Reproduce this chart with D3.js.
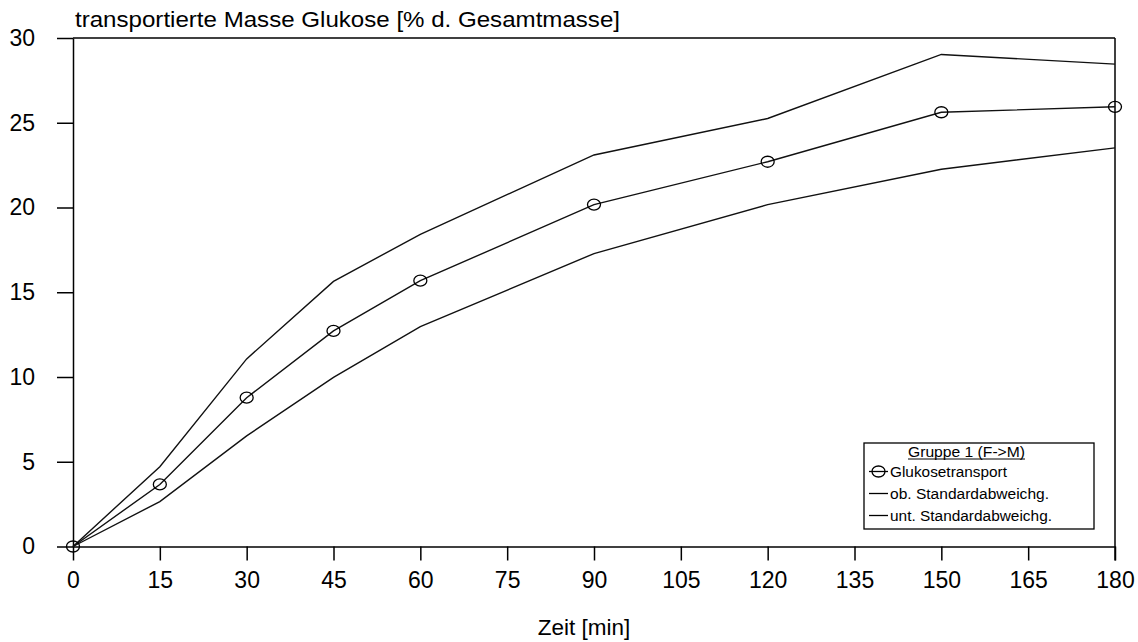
<!DOCTYPE html>
<html>
<head>
<meta charset="utf-8">
<script src="https://cdn.jsdelivr.net/npm/d3@7"></script>
<style>
  body { margin: 0; background: #fff; }
  svg { display: block; font-family: "Liberation Sans", Arial, sans-serif; }
</style>
</head>
<body>
<svg width="1138" height="642"></svg>
<script>
const width = 1138, height = 642;
const svg = d3.select("svg");

// data
const times = [0, 15, 30, 45, 60, 90, 120, 150, 180];
const mean = [0, 3.66, 8.78, 12.72, 15.68, 20.17, 22.70, 25.62, 25.94];
const upper = [0, 4.71, 11.07, 15.64, 18.42, 23.10, 25.25, 29.03, 28.46];
const lower = [0, 2.65, 6.53, 9.98, 12.97, 17.28, 20.17, 22.26, 23.52];
const xTicks = [0, 15, 30, 45, 60, 75, 90, 105, 120, 135, 150, 165, 180];
const yTicks = [0, 5, 10, 15, 20, 25, 30];

const x = d3.scaleLinear().domain([0, 180]).range([73, 1115]);
const y = d3.scaleLinear().domain([0, 30]).range([546.5, 38]);

// axes
const xAxis = svg.append("g")
    .attr("transform", `translate(0,${y(0)})`)
    .call(d3.axisBottom(x).tickValues(xTicks).tickSize(14).tickSizeOuter(0).tickPadding(11));
const yAxis = svg.append("g")
    .attr("transform", `translate(${x(0)},0)`)
    .call(d3.axisLeft(y).tickValues(yTicks).tickSize(16).tickSizeOuter(0).tickPadding(22));

[xAxis, yAxis].forEach(g => {
    g.selectAll("path.domain").attr("stroke", "#000").attr("stroke-width", 1.5);
    g.selectAll(".tick line").attr("stroke", "#000").attr("stroke-width", 1.5);
    g.selectAll(".tick text")
        .attr("fill", "#000")
        .style("font-size", "23px")
        .style("font-family", "'Liberation Sans', Arial, sans-serif");
});

// frame on top and right
svg.append("line")
    .attr("x1", x(0)).attr("x2", x(180)).attr("y1", y(30)).attr("y2", y(30))
    .attr("stroke", "#000").attr("stroke-width", 1.5);
svg.append("line")
    .attr("x1", x(180)).attr("x2", x(180)).attr("y1", y(30)).attr("y2", y(0) + 14)
    .attr("stroke", "#000").attr("stroke-width", 1.5);

// series lines
const line = d3.line().x((d, i) => x(times[i])).y(d => y(d));
[upper, lower, mean].forEach(s => {
    svg.append("path")
        .datum(s)
        .attr("d", line)
        .attr("fill", "none")
        .attr("stroke", "#111")
        .attr("stroke-width", 1.4);
});

svg.selectAll(".pt")
    .data(mean)
    .join("ellipse")
    .attr("class", "pt")
    .attr("cx", (d, i) => x(times[i]))
    .attr("cy", d => y(d))
    .attr("rx", 6.5)
    .attr("ry", 5.5)
    .attr("fill", "none")
    .attr("stroke", "#000")
    .attr("stroke-width", 1.3);

// titles
svg.append("text")
    .attr("x", 75).attr("y", 27)
    .attr("textLength", 545).attr("lengthAdjust", "spacingAndGlyphs")
    .style("font-size", "21.5px")
    .text("transportierte Masse Glukose [% d. Gesamtmasse]");

svg.append("text")
    .attr("x", 584).attr("y", 635)
    .attr("text-anchor", "middle")
    .style("font-size", "22.5px")
    .text("Zeit [min]");

// legend
const lg = svg.append("g");
lg.append("rect")
    .attr("x", 864).attr("y", 443).attr("width", 230).attr("height", 86)
    .attr("fill", "#fff").attr("stroke", "#000").attr("stroke-width", 1.3);
lg.append("text")
    .attr("x", 908).attr("y", 456.5)
    .attr("textLength", 117).attr("lengthAdjust", "spacingAndGlyphs")
    .style("font-size", "15.5px")
    .text("Gruppe 1 (F->M)");
lg.append("line")
    .attr("x1", 908).attr("x2", 1025).attr("y1", 459).attr("y2", 459)
    .attr("stroke", "#000").attr("stroke-width", 1);

const legendRows = [
    { label: "Glukosetransport", len: 117, marker: true },
    { label: "ob. Standardabweichg.", len: 159, marker: false },
    { label: "unt. Standardabweichg.", len: 162, marker: false }
];
legendRows.forEach((r, i) => {
    const cy = 471.5 + i * 22;
    lg.append("line")
        .attr("x1", 869).attr("x2", 888).attr("y1", cy).attr("y2", cy)
        .attr("stroke", "#000").attr("stroke-width", 1.3);
    if (r.marker) {
        lg.append("ellipse")
            .attr("cx", 878.5).attr("cy", cy).attr("rx", 6.5).attr("ry", 5.5)
            .attr("fill", "none").attr("stroke", "#000").attr("stroke-width", 1.3);
    }
    lg.append("text")
        .attr("x", 890).attr("y", cy + 5.5)
        .attr("textLength", r.len).attr("lengthAdjust", "spacingAndGlyphs")
        .style("font-size", "15.5px")
        .text(r.label);
});
</script>
</body>
</html>
